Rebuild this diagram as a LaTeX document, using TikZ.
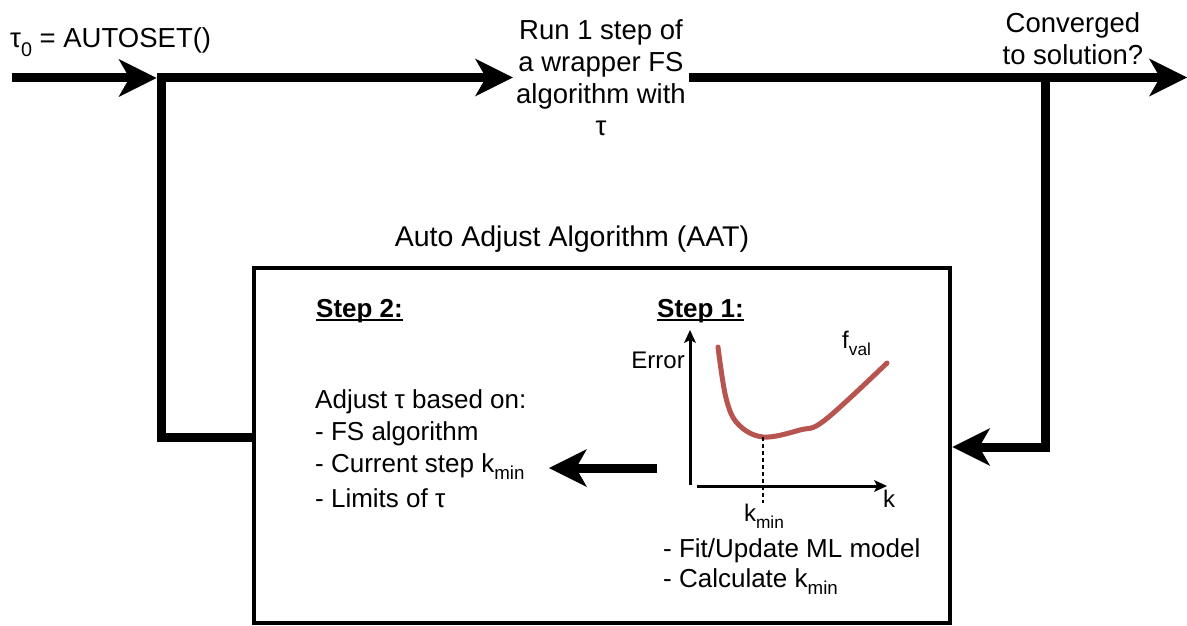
\documentclass[tikz,border=0pt]{standalone}
\usepackage{fontspec}
\setmainfont{Liberation Sans}
\usepackage{graphicx}
\usetikzlibrary{arrows.meta}

% lowered, reduced subscript in text
\newcommand\lowsub[1]{\raisebox{-0.3em}{\scalebox{0.72}{#1}}}
% underline that runs through descenders
\newcommand\ulbox[1]{\setbox0\hbox{#1}\rlap{\copy0}\rule[-3.5pt]{\wd0}{1.8pt}}

\definecolor{curvered}{HTML}{B85450}

\tikzset{
  bigtip/.tip={Stealth[length=38pt,width=38pt,inset=11pt,line width=0pt]},
  smalltip/.tip={Stealth[length=13pt,width=12pt,inset=3pt,line width=0pt]},
  flow/.style={line width=9pt,-bigtip},
  axis/.style={line width=3pt,-smalltip},
  txt/.style={font=\fontsize{27.5}{32}\selectfont,inner sep=0pt},
  boxtxt/.style={font=\fontsize{26}{32}\selectfont,inner sep=0pt},
  boldtxt/.style={font=\fontsize{26}{32}\selectfont\bfseries,inner sep=0pt},
  smalltxt/.style={font=\fontsize{24}{28}\selectfont,inner sep=0pt},
  frame/.style={draw,line width=4.5pt,inner sep=0pt},
  fvalcurve/.style={draw=curvered,line width=5pt,line cap=round,line join=round},
}

\begin{document}
\begin{tikzpicture}[x=1pt,y=-1pt]
\useasboundingbox (0,0) rectangle (1187,626);

% ---- top row ----
\node[txt,anchor=base west] (init) at (10,48) {τ\lowsub{0} = AUTOSET()};
\node[txt,align=center,anchor=north,inner sep=3pt] (run) at (601,16)
  {Run 1 step of\\a wrapper FS\\algorithm with\\τ};
\node[txt,align=center,anchor=north] (conv) at (1073,12)
  {Converged\\to solution?};

\coordinate (start) at (12,78);
\coordinate (jl) at (161,77.5);
\coordinate (jr) at (1045,77.5);
\coordinate (out) at (1187,77.5);
\coordinate (lb) at (161,437);
\coordinate (rb) at (1045,447);

% ---- AAT frame ----
\node[frame,minimum width=696pt,minimum height=355pt] (box) at (602,445.5) {};
\node[font=\fontsize{28.5}{34}\selectfont,inner sep=0pt,anchor=base] (title) at (572,246)
  {Auto Adjust Algorithm (AAT)};

% ---- connectors ----
\draw[flow] (start) -- ([xshift=-4.5pt]jl |- start);
\draw[flow] (box.west |- lb) -- (lb) -- (jl) -- (run.west |- jl);
\draw[flow] (run.east |- jl) -- (out);
\draw[flow] (jr) -- (rb) -- (box.east |- rb);

% ---- step 2 ----
\node[boldtxt,anchor=base west] (s2) at (316,317) {\ulbox{Step 2:}};
\node[boxtxt,anchor=north west,align=left] (adjust) at (315,389)
  {Adjust τ based on:\\- FS algorithm\\- Current step k\lowsub{min}\\[3pt]- Limits of τ};

% ---- step 1 ----
\node[boldtxt,anchor=base west] (s1) at (657,317) {\ulbox{Step 1:}};
\node[boxtxt,anchor=north west,align=left] (fit) at (663,538)
  {- Fit/Update ML model\\[-2pt]- Calculate k\lowsub{min}};

\coordinate (s1out) at (657,468);
\coordinate (s2in) at (549,468);
\draw[flow] (s1out) -- (s2in);

% ---- error plot ----
\coordinate (ybot) at (690,485);
\coordinate (ytop) at (690,330);
\coordinate (xleft) at (697,486);
\coordinate (xright) at (887,486);
\draw[axis] (ybot) -- (ytop);
\draw[axis] (xleft) -- (xright);

\node[smalltxt,anchor=base east] (err) at (685,368) {Error};
\node[smalltxt,anchor=base west] (klab) at (883,507) {k};
\node[smalltxt,anchor=base] (kmin) at (764,521) {k\lowsub{min}};
\node[smalltxt,anchor=base west] (fval) at (842,348) {f\lowsub{val}};

\coordinate (cmin) at (763,437);
\draw[fvalcurve] plot[smooth,tension=0.6] coordinates
  {(718,347) (726,398) (738,424) (763,437) (800,430) (825,420) (887,363)};
\draw[line width=1.3pt,dash pattern=on 4pt off 3pt] (cmin) -- (kmin.north -| cmin);
\end{tikzpicture}
\end{document}
